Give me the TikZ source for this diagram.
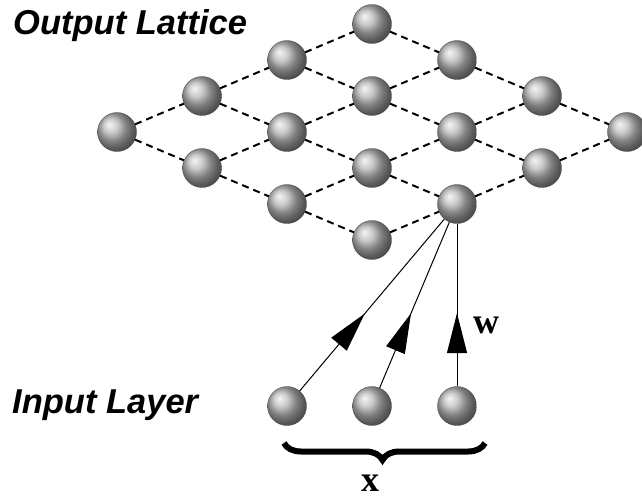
\documentclass[tikz,border=0pt]{standalone}
\usepackage{fontspec}
\newfontfamily\labelfont{Liberation Sans}
\newfontfamily\symbfont{Liberation Serif}
\usetikzlibrary{arrows.meta,decorations.pathreplacing,decorations.markings}

\begin{document}
\begin{tikzpicture}[
    x=1pt, y=-1pt,
    ball/.style={circle, minimum size=39pt, inner sep=0pt, shading=ball, ball color=gray!55, draw=gray!50!black, line width=0.3pt},
    link/.style={dash pattern=on 7pt off 5pt, line width=2pt},
    weight/.style={line width=1pt, postaction={decorate}, decoration={markings, mark=at position 0.45 with {\arrow{Triangle[length=40pt,width=20pt]}}}},
    title/.style={anchor=base west, inner sep=0pt, font=\labelfont\bfseries\itshape\fontsize{34.5}{38}\selectfont},
    sym/.style={anchor=base, inner sep=0pt, font=\symbfont\bfseries\fontsize{36}{38}\selectfont}
]
    \useasboundingbox (0,0) rectangle (642,499);

    % output lattice
    \foreach \i in {0,...,3}
      \foreach \j in {0,...,3}
        \node[ball] (n\i\j) at ({117+85*(\i+\j)}, {132-36*\i+36*\j}) {};
    \foreach \i in {0,...,3}
      \foreach \j [count=\k from 1] in {0,1,2}
        {\draw[link] (n\i\j) -- (n\i\k);
         \draw[link] (n\j\i) -- (n\k\i);}

    % input layer
    \node[ball] (x1) at (287,406) {};
    \node[ball] (x2) at (372,406) {};
    \node[ball] (x3) at (457,406) {};

    \draw[weight] (x1) -- (n13);
    \draw[weight] (x2) -- (n13);
    \draw[weight] (x3) -- (n13);

    \coordinate (bl) at (284,443);
    \coordinate (br) at (485,443);
    \draw[decorate, decoration={brace, mirror, amplitude=17pt, aspect=0.49}, line width=6pt] (bl) -- (br);

    \node[title] (outlbl) at (13,34) {Output Lattice};
    \node[title] (inlbl) at (12,413) {Input Layer};
    \node[sym] (wlbl) at (486,333) {w};
    \node[sym] (xlbl) at (370,491) {x};
\end{tikzpicture}
\end{document}
